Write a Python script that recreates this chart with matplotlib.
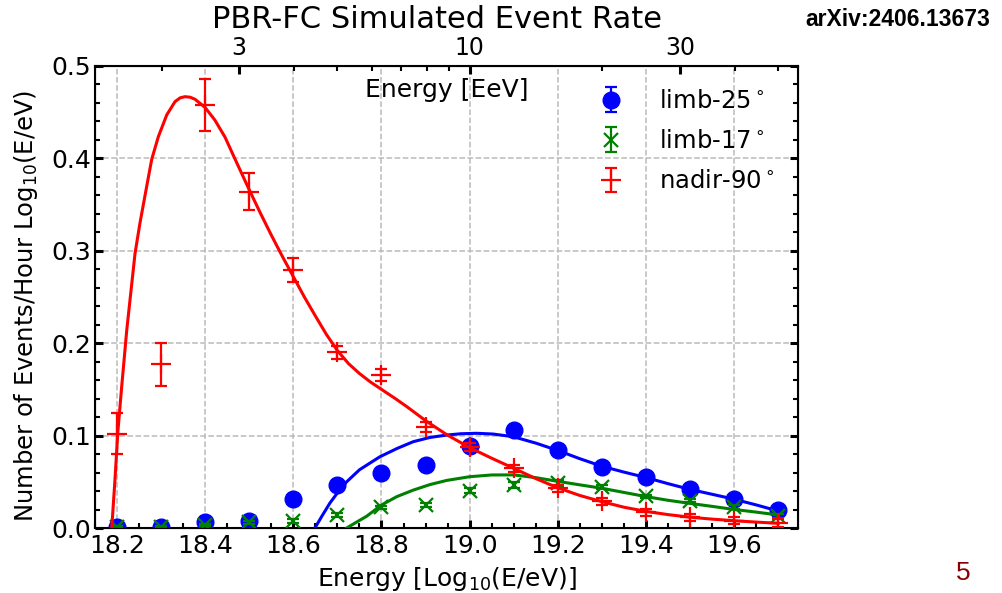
import numpy as np
import matplotlib
matplotlib.use("Agg")
import matplotlib.pyplot as plt
from matplotlib.ticker import FixedLocator, MultipleLocator, NullFormatter

# ---- data ----
energy = [18.2, 18.3, 18.4, 18.5, 18.6, 18.7, 18.8, 18.9, 19.0, 19.1, 19.2, 19.3, 19.4, 19.5, 19.6, 19.7]

limb25 = [0.001, 0.001, 0.0065, 0.0075, 0.031, 0.046, 0.059, 0.068, 0.089, 0.1065, 0.0844, 0.0664, 0.0548, 0.0419, 0.0318, 0.0195]
limb25_err = [0.001, 0.001, 0.002, 0.002, 0.003, 0.003, 0.003, 0.003, 0.003, 0.003, 0.003, 0.002, 0.002, 0.002, 0.002, 0.002]

limb17 = [0.001, 0.001, 0.003, 0.006, 0.0072, 0.014, 0.0222, 0.0249, 0.0404, 0.0467, 0.0485, 0.0447, 0.0342, 0.0296, 0.023, 0.013]
limb17_err = [0.001, 0.001, 0.001, 0.002, 0.002, 0.002, 0.002, 0.002, 0.003, 0.003, 0.003, 0.002, 0.002, 0.002, 0.002, 0.002]

nadir90 = [0.102, 0.177, 0.458, 0.364, 0.279, 0.190, 0.1656, 0.1097, 0.0875, 0.0646, 0.043, 0.0290, 0.0168, 0.0115, 0.0079, 0.0056]
nadir90_err = [0.022, 0.023, 0.028, 0.020, 0.013, 0.0075, 0.0063, 0.0054, 0.004, 0.004, 0.004, 0.004, 0.004, 0.004, 0.004, 0.004]

# fitted curves
fit_nadir_x = [18.188, 18.195, 18.2016, 18.210, 18.222, 18.2408, 18.252, 18.267, 18.2787, 18.2937, 18.3127,
               18.3315, 18.343, 18.354, 18.366, 18.3769, 18.3995, 18.4218, 18.445, 18.467, 18.500, 18.525,
               18.550, 18.575, 18.600, 18.625, 18.650, 18.675, 18.700, 18.725, 18.750, 18.775, 18.800,
               18.830, 18.857, 18.902, 18.948, 19.000, 19.050, 19.100, 19.150, 19.200, 19.250, 19.300,
               19.350, 19.400, 19.450, 19.500, 19.550, 19.600, 19.650, 19.700]
fit_nadir_y = [0.000, 0.050, 0.1025, 0.150, 0.214, 0.297, 0.330, 0.369, 0.399, 0.4235, 0.447,
               0.4614, 0.4655, 0.4668, 0.4662, 0.464, 0.4553, 0.4416, 0.423, 0.400, 0.366, 0.341,
               0.317, 0.294, 0.272, 0.250, 0.2295, 0.2095, 0.192, 0.178, 0.1672, 0.158, 0.150,
               0.1405, 0.1315, 0.1155, 0.101, 0.087, 0.0755, 0.0646, 0.0535, 0.0435, 0.0352, 0.0285,
               0.0225, 0.018, 0.0145, 0.0117, 0.0096, 0.0079, 0.0064, 0.0051]

fit_limb25_x = [18.649, 18.665, 18.683, 18.700, 18.721, 18.750, 18.796, 18.835, 18.872, 18.910, 18.948, 18.980,
                19.016, 19.053, 19.099, 19.152, 19.201, 19.250, 19.299, 19.350, 19.401, 19.450, 19.499, 19.550,
                19.598, 19.650, 19.700]
fit_limb25_y = [0.000, 0.013, 0.027, 0.038, 0.050, 0.063, 0.077, 0.086, 0.0934, 0.098, 0.1006, 0.102,
                0.1025, 0.1017, 0.0988, 0.0916, 0.0837, 0.075, 0.067, 0.0605, 0.0545, 0.048, 0.0419, 0.0365,
                0.0314, 0.025, 0.0184]

fit_limb17_x = [18.721, 18.745, 18.766, 18.800, 18.835, 18.872, 18.910, 18.948, 19.000, 19.050, 19.100, 19.150,
                19.200, 19.250, 19.300, 19.350, 19.401, 19.450, 19.499, 19.550, 19.598, 19.650, 19.700]
fit_limb17_y = [0.000, 0.0068, 0.0126, 0.0249, 0.034, 0.041, 0.047, 0.0515, 0.0555, 0.0574, 0.0575, 0.0545,
                0.0505, 0.0467, 0.043, 0.0385, 0.0339, 0.030, 0.0267, 0.0234, 0.0202, 0.0172, 0.0141]

top_major = [3, 10, 30]
top_minor = [2, 4, 5, 6, 7, 8, 9, 20, 40, 50]
labels = ['limb-25$^\\circ$', 'limb-17$^\\circ$', 'nadir-90$^\\circ$']

# ---- figure ----
plt.rcParams['font.family'] = ['DejaVu Sans']
plt.rcParams['mathtext.fontset'] = 'dejavusans'
fig = plt.figure(figsize=(10.02, 5.93), dpi=100)
ax = fig.add_axes([95 / 1002, 1 - 528 / 593, (798 - 95) / 1002, (528 - 66) / 593])

eb_kw = dict(capsize=4.5, elinewidth=1.6, capthick=1.6, linestyle='none')
ax.errorbar(energy, limb25, yerr=limb25_err, fmt='o', color='blue', ms=12, label=labels[0], zorder=3, **eb_kw)
ax.errorbar(energy, limb17, yerr=limb17_err, fmt='x', color='green', ms=10, mew=1.6, label=labels[1], zorder=4, **eb_kw)
ax.errorbar(energy, nadir90, yerr=nadir90_err, fmt='+', color='red', ms=14, mew=1.6, label=labels[2], zorder=5, **eb_kw)

ax.plot(fit_limb25_x, fit_limb25_y, color='blue', lw=2.2, zorder=3, solid_joinstyle='round')
ax.plot(fit_limb17_x, fit_limb17_y, color='green', lw=2.2, zorder=4, solid_joinstyle='round')
ax.plot(fit_nadir_x, fit_nadir_y, color='red', lw=2.2, zorder=5, solid_joinstyle='round')

xlo, xhi = 18.15, 19.745
ax.set_xlim(xlo, xhi)
ax.set_ylim(0, 0.5)
ax.xaxis.set_major_locator(FixedLocator([18.2, 18.4, 18.6, 18.8, 19.0, 19.2, 19.4, 19.6]))
ax.xaxis.set_minor_locator(MultipleLocator(0.05))
ax.yaxis.set_major_locator(MultipleLocator(0.1))
ax.yaxis.set_minor_locator(MultipleLocator(0.02))
ax.tick_params(which='both', direction='in', right=True, top=False, labelsize=18)
ax.tick_params(axis='x', pad=4)
ax.tick_params(axis='y', pad=3)
ax.tick_params(which='major', length=6, width=2.2)
ax.tick_params(which='minor', length=3.5, width=1.5)
ax.grid(True, which='major', linestyle='--', color='#bbbbbb', lw=1.1)
for s in ax.spines.values():
    s.set_linewidth(1.5)

ax.set_xlabel('Energy [Log$_{10}$(E/eV)]', fontsize=18, labelpad=5.5)
ax.set_ylabel('Number of Events/Hour Log$_{10}$(E/eV)', fontsize=17.5, labelpad=8)
ax.yaxis.label.set_y(0.48)

# top axis in EeV
ax2 = ax.twiny()
ax2.set_xscale('log')
ax2.set_xlim(10 ** (xlo - 18), 10 ** (xhi - 18))
ax2.xaxis.set_major_locator(FixedLocator(top_major))
ax2.xaxis.set_minor_locator(FixedLocator(top_minor))
ax2.xaxis.set_minor_formatter(NullFormatter())
ax2.set_xticklabels([str(v) for v in top_major], fontsize=17)
ax2.tick_params(which='both', direction='in', pad=4)
ax2.tick_params(which='major', length=6, width=2.2)
ax2.tick_params(which='minor', length=3.5, width=1.5)
ax.text(0.5, 0.948, 'Energy [EeV]', transform=ax.transAxes, ha='center', va='center', fontsize=18)

leg = ax.legend(loc='upper right', bbox_to_anchor=(1.0, 1.0), frameon=False, fontsize=17.5,
                labelspacing=0.66, handletextpad=1.0, borderaxespad=0.55)

fig.text(437 / 1002, 1 - 20 / 593, 'PBR-FC Simulated Event Rate', ha='center', va='center',
         fontsize=22)
fig.text(990 / 1002, 1 - 19 / 593, 'arXiv:2406.13673', ha='right', va='center', fontsize=16.5,
         fontweight='bold', family='Liberation Sans')
fig.text(963 / 1002, 1 - 573 / 593, '5', ha='center', va='center', fontsize=19, color='#8b0000',
         family='Liberation Sans')

fig.savefig('out.png', dpi=100)
